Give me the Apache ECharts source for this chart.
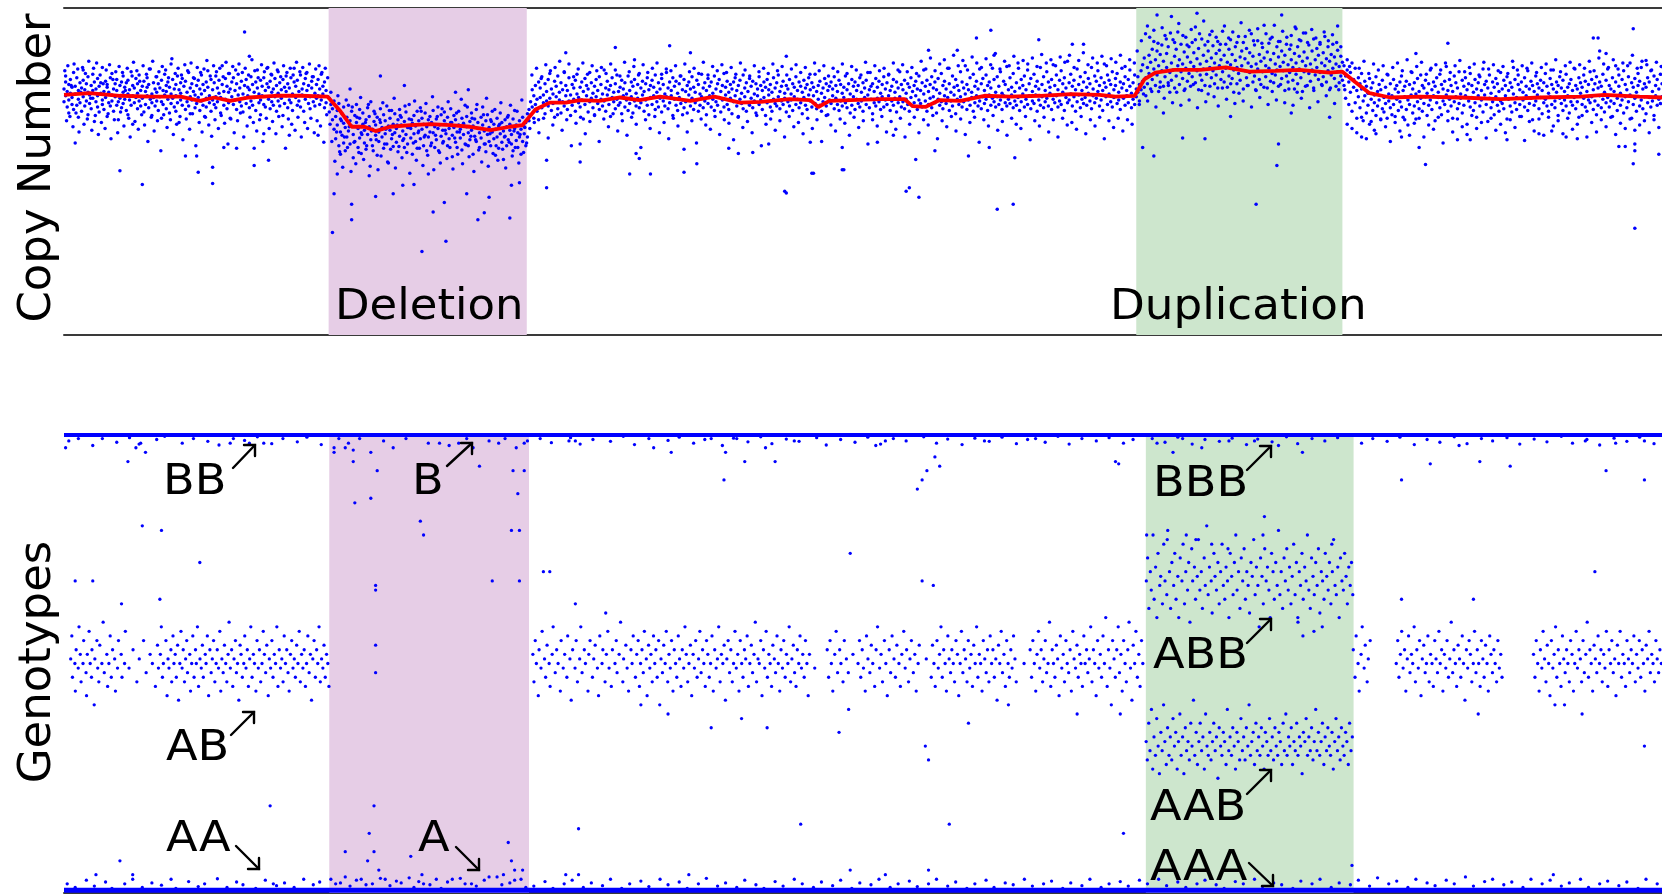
<!DOCTYPE html>
<html><head><meta charset="utf-8">
<script src="https://cdn.jsdelivr.net/npm/echarts@6/dist/echarts.min.js"></script>
<style>html,body{margin:0;padding:0;background:#fff}#c{width:1662px;height:896px}</style>
</head><body><div id="c"></div>
<script>
// ---------- DATA (position units 0..1000; copy number = log R ratio; genotype = B allele frequency) ----------
const deletionTop = [165.6, 289.6];
const duplicationTop = [671, 800];
const deletionBottom = [166, 291];
const duplicationBottom = [677, 807];
const regionLabels = ['Deletion', 'Duplication'];
const genotypeLabels = ['BB', 'B', 'AB', 'AA', 'A', 'BBB', 'ABB', 'AAB', 'AAA'];
const axisTitles = ['Copy Number', 'Genotypes'];

const cnSmooth = [0,-.01,16,.01,35,-.02,54,-.03,73,-.03,85,-.08,94,-.04,104,-.08,116,-.04,132,-.02,148,-.02,165,-.03,173,-.2,180,-.38,188,-.38,195,-.43,204,-.38,217,-.36,229,-.35,242,-.36,254,-.38,267,-.42,279,-.38,287,-.36,295,-.18,304,-.1,314,-.1,323,-.07,335,-.08,348,-.04,360,-.07,373,-.03,392,-.08,407,-.03,423,-.1,436,-.09,454,-.06,467,-.07,472,-.15,479,-.08,492,-.07,511,-.06,526,-.06,531,-.14,539,-.15,548,-.07,561,-.08,576,-.02,592,-.03,611,-.02,630,0,648,-.01,658,-.03,670,-.02,676,.17,683,.25,695,.28,711,.28,727,.31,742,.26,758,.27,773,.28,792,.25,800,.26,808,.14,817,.01,830,-.04,849,-.03,874,-.04,899,-.06,924,-.04,949,-.03,964,-.01,986,-.03,1000,-.04];

const cnLeft = [0,.06,0,-.09,1,.14,1,-.02,1,.21,2,-.15,2,.03,3,-.07,3,.11,3,-.22,4,.01,4,.17,5,-.12,5,.08,5,-.04,6,.25,6,-.18,7,.0,7,-.57,7,.09,8,-.13,8,.19,9,-.06,9,.04,9,-.27,10,.13,10,-.1,11,.07,11,-.2,12,.16,12,-.03,12,.28,13,-.14,13,.05,14,-.08,14,.12,15,-.24,15,.02,15,.2,16,-.11,16,-.01,17,.1,17,-.17,18,.23,18,-.05,18,.04,19,-.32,19,.14,20,-.09,20,.06,21,-.15,21,.18,21,-.02,22,.09,22,-.21,23,.01,23,.13,24,-.07,24,.31,24,-.12,25,.03,25,-.18,26,.15,26,-.04,27,.08,27,-.26,27,.11,28,-.1,28,.02,29,.19,29,-.14,30,-.01,30,.24,30,-.08,31,.06,31,-.2,32,.12,32,-.03,33,-.13,33,.17,33,.04,34,-.09,34,-.3,35,.1,35,-.89,35,-.05,36,.14,36,-.16,37,.02,37,.21,37,-.11,38,-.06,38,.08,39,-.19,39,.13,40,.0,40,-.24,40,.16,41,-.07,41,.05,42,.26,42,-.13,43,-.02,43,.1,43,-.35,44,.07,44,-.1,45,.18,45,-.04,46,-.17,46,.12,46,.01,47,-.08,47,.22,48,-.14,48,.04,49,-1.05,49,.09,49,-.05,50,.15,50,-.21,51,.03,51,-.12,52,.19,52,-.02,52,.08,53,-.16,53,.11,54,-.06,54,.29,55,-.1,55,.0,55,-.25,56,.13,56,-.04,57,.06,57,-.14,58,.2,58,-.08,58,.02,59,-.19,59,.12,60,-.03,60,.07,61,-.28,61,.16,61,-.09,62,.04,62,-.12,63,.23,63,-.01,64,.1,64,-.17,64,.03,65,-.06,65,.14,66,-.22,66,.08,67,.0,67,-.11,67,.35,68,.17,68,-.05,69,-.15,69,.06,70,.11,70,-.2,70,-.02,71,.21,71,-.1,72,.05,72,-.33,73,.13,73,-.07,73,.01,74,-.13,74,.18,75,-.04,75,.09,76,-.72,76,-.18,76,.15,77,.02,77,-.09,78,.25,78,-.14,79,.07,79,-.03,79,-.23,80,.12,80,-.07,81,.03,81,.19,82,-.16,82,-.01,83,-.72,83,.1,83,-.11,84,-.91,84,.16,84,-.04,85,.06,85,-.19,86,.22,86,-.08,86,.0,87,-.13,87,.11,88,-.26,88,.04,89,.14,89,-.05,89,-.15,90,.08,90,.27,91,-.1,91,-.02,92,.17,92,-.2,93,-1.04,93,-.85,93,.05,93,-.07,94,.13,94,-.12,95,-.03,95,.21,95,-.16,96,.07,96,-.09,97,.01,97,.16,98,-.22,98,-.04,99,.11,99,.33,100,-.62,100,-.13,100,.03,101,.18,101,-.06,102,-.17,102,.09,103,.02,103,-.1,103,.24,104,-.28,104,.06,105,.14,105,-.03,106,-.12,106,.19,107,.04,107,-.07,108,-.63,108,.12,108,-.18,109,-.01,109,.23,110,-.09,110,.07,111,-.14,111,.15,112,.0,112,-.21,113,.72,113,.1,113,-.05,114,.17,114,-.11,115,-.02,115,.08,116,.44,116,-.16,116,.05,117,-.08,117,.2,118,-.13,118,.11,119,-.83,119,-.63,119,.02,119,-.04,120,.14,120,-.19,121,.07,121,.28,122,-.1,122,.0,123,.16,123,-.07,123,-.24,124,.09,124,-.02,125,-.46,125,.19,125,-.12,126,.04,126,-.15,127,.12,127,.3,128,-.77,128,-.06,128,.08,129,-.17,129,.15,130,.02,130,-.09,130,.22,131,-.13,131,.06,132,-.03,132,.18,133,-.2,133,.1,134,.01,134,-.08,134,.26,135,-.14,135,.13,136,.05,136,-.05,137,-.25,137,.17,138,.08,138,-.11,139,.21,139,-.02,139,.03,140,-.16,140,.12,141,-.48,141,-.07,141,.07,142,.19,142,-.1,143,.0,143,-.19,144,.14,144,.3,145,-.04,145,.09,146,-.13,146,.16,147,.03,147,-.08,148,.22,148,-.15,149,.06,149,-.01,150,.12,150,-.2,151,.18,151,-.06,152,.04,152,.25,153,-.11,153,.1,154,-.03,154,-.17,155,.15,155,.07,156,-.09,156,.2,157,.01,157,-.14,158,.11,158,-.05,159,-.48,159,.17,159,-.02,160,.06,160,-.12,161,.23,161,-.07,162,.09,162,.0,163,-.16,163,.14,164,.04,164,-.1,165,.19,165,-.03];

const cnDeletion = [166,-.05,166,-.21,167,-.12,167,.02,168,-1.61,168,-.3,168,-.17,169,-1.16,169,-.41,169,-.08,170,-.26,170,-.52,171,-.93,171,-.19,171,-.36,172,-.6,172,-.11,173,-.44,173,-.29,173,-.7,174,-.23,174,-.48,175,-.34,175,-.15,175,-.57,176,-.39,176,-.66,177,-.27,177,-.5,178,-.13,178,-.43,179,.06,179,-.31,179,-.58,180,-1.28,180,-1.46,180,-.37,180,-.2,181,-.47,181,-.74,182,-.25,182,-.55,183,-.33,183,-.12,184,-.62,184,-.4,185,-.28,185,-.51,185,-.18,186,-.45,186,-.69,187,-.35,187,-.22,188,-.57,188,-.42,189,-.3,189,-.64,190,-.16,190,-.47,191,-.95,191,-.38,191,-.26,192,-.53,192,-.09,193,-.41,193,-.6,194,-.32,194,-.2,195,-1.19,195,-.48,195,-.36,196,-.71,196,-.27,197,-.44,197,-.55,198,.21,198,-.33,198,-.17,199,-.5,199,-.39,200,-.63,200,-.24,201,-.46,201,-.31,202,-.58,202,-.14,203,-.37,203,-.8,204,-.42,204,-.28,205,-.52,205,-.19,206,-1.16,206,-.35,206,-.61,207,-.45,207,-.23,208,-.4,208,-.56,209,-.3,209,-.67,210,-.18,210,-.49,211,-.36,211,-.27,212,-1.06,212,-.54,212,-.43,213,.1,213,-.32,213,-.62,214,-.21,214,-.47,215,-.39,215,-.58,216,-.29,216,-.12,217,-.51,217,-.4,218,-.7,218,-.34,219,-1.05,219,-.25,219,-.46,220,-.55,220,-.37,221,-.2,221,-.63,222,-.43,222,-.31,223,-.52,223,-.16,224,-1.83,224,-.41,224,-.28,225,-.6,225,-.35,226,-.48,226,-.22,227,-.38,227,-.66,228,-.93,228,-.3,228,-.5,229,-.44,229,-.26,230,-.57,230,-.33,231,-1.37,231,-.19,231,-.45,232,-.62,232,-.38,233,-.29,233,-.53,234,-.4,234,-.15,235,-.68,235,-.36,236,-.24,236,-.49,237,-.42,237,-.57,238,-1.26,238,-.31,238,-.21,239,-1.71,239,-.46,239,-.35,240,-.6,240,-.27,241,-.4,241,-.52,242,-.33,242,-.17,243,-.48,243,-.73,244,-.25,244,-.39,245,.02,245,-.56,245,-.3,246,-.44,246,-.62,247,-.36,247,-.2,248,-.51,248,-.41,249,-.28,249,-.65,250,-.34,250,-.47,251,-.13,251,-.58,252,-1.16,252,-.38,252,-.26,253,.05,253,-.45,253,-.6,254,-.32,254,-.53,255,-.22,255,-.42,256,-.37,256,-.7,257,-.29,257,-.49,258,-.55,258,-.18,259,-1.46,259,-.4,259,-.33,260,-.62,260,-.45,261,-.27,261,-.51,262,-.36,262,-.15,263,-1.38,263,-.58,263,-.43,264,-.31,264,-.67,265,-.24,265,-.47,266,-1.2,266,-.39,266,-.55,267,-.3,267,-.6,268,-.44,268,-.2,269,-.52,269,-.35,270,-.71,270,-.41,271,-.28,271,-.5,272,-.37,272,-.63,273,-.46,273,-.22,274,-.56,274,-.33,275,-.43,275,-.76,276,-.3,276,-.49,277,-.6,277,-.38,278,-.25,278,-.53,279,-1.44,279,-.42,279,-.35,280,-1.06,280,-.58,280,-.47,281,-.29,281,-.66,282,-.4,282,-.19,283,-.54,283,-.36,284,-.45,284,-.62,285,-1.03,285,-.31,285,-.5,286,-.41,286,-.7,287,-.27,287,-.55,288,-.38,288,-.46,289,-.6,289,-.33,290,-.5,290,-.23];

const cnMiddle = [291,-.18,291,-.31,292,-.09,292,-.24,293,.05,293,-.15,294,-.28,294,-.02,295,-.12,295,.1,296,-.2,296,-.06,297,.14,297,-.3,298,-.04,298,.07,299,-.16,299,.2,300,-.1,300,-.01,301,-.23,301,.12,302,-1.09,302,-.77,302,.03,302,-.08,303,.17,303,-.14,304,-.05,304,.24,305,-.19,305,.06,306,-.11,306,.0,307,.15,307,-.27,308,-.03,308,.09,309,-.17,309,.21,310,-.07,310,.02,311,-.22,311,.13,312,-.09,312,.05,313,.26,313,-.14,314,.48,314,-.02,314,.1,315,-.18,315,.04,316,-.08,316,.19,317,-.25,317,-.01,318,.11,318,-.13,319,.07,319,-.06,320,.16,320,-.2,321,.0,321,.23,322,-.1,322,-.04,323,-.79,323,-.58,323,.08,323,-.15,324,.14,324,-.07,325,-.29,325,.03,326,.18,326,-.12,327,-.02,327,.1,328,-.21,328,.06,329,.25,329,-.09,330,-.05,330,.13,331,-.16,331,.01,332,.09,332,-.24,333,-.03,333,.17,334,-.11,334,.04,335,.2,335,-.18,336,-.06,336,.11,337,.0,337,-.14,338,.28,338,-.08,339,.07,339,-.2,340,-.01,340,.15,341,-.12,341,.05,342,-.26,342,.1,343,.19,343,-.04,344,-.09,344,.02,345,.54,345,-.17,345,.12,346,-.06,346,.22,347,-.13,347,.03,348,.08,348,-.1,349,-.23,349,.16,350,-.02,350,.06,351,-.15,351,.13,352,.0,352,-.07,353,.21,353,-.19,354,-.93,354,.04,354,-.11,355,.14,355,-.03,356,-.22,356,.09,357,.4,357,.17,357,-.08,358,-.69,358,-.14,358,.01,359,.11,359,-.05,360,-.75,360,.24,360,-.16,361,.07,361,-.1,362,-.01,362,.15,363,-.2,363,.03,364,.12,364,-.07,365,-.13,365,.19,366,.05,366,-.24,367,-.93,367,-.04,367,.1,368,.16,368,-.12,369,-.02,369,.08,370,-.18,370,.22,371,.02,371,-.09,372,.13,372,-.15,373,-.05,373,.06,374,.18,374,-.21,375,-.08,375,.11,376,.0,376,-.14,377,.25,377,-.03,378,.07,378,-.17,379,.56,379,.14,379,-.1,380,-.02,380,.04,381,-.25,381,.19,382,.09,382,-.06,383,-.13,383,.15,384,.01,384,-.19,385,.12,385,-.04,386,.21,386,-.11,387,-.07,387,.05,388,-.91,388,-.64,388,.17,388,-.16,389,.03,389,-.09,390,.1,390,-.22,391,-.01,391,.14,392,.48,392,-.14,392,.06,393,-.05,393,.2,394,-.18,394,.08,395,.02,395,-.1,396,-.81,396,.16,396,-.07,397,-.2,397,.11,398,.0,398,-.13,399,.23,399,-.03,400,.07,400,-.16,401,.13,401,-.08,402,-.24,402,.04,403,.18,403,-.11,404,-.02,404,.09,405,-.15,405,.14,406,.01,406,-.06,407,.21,407,-.19,408,-.09,408,.06,409,.12,409,-.13,410,-.04,410,.17,411,-.21,411,.03,412,.1,412,-.07,413,-.15,413,.24,414,-.01,414,.08,415,-.12,415,.15,416,-.63,416,.02,416,-.18,417,.11,417,-.05,418,-.23,418,.06,419,.14,419,-.09,420,-.02,420,.19,421,-.14,421,.04,422,-.69,422,-.26,422,.1,423,.16,423,-.06,424,-.11,424,.01,425,.22,425,-.17,426,.07,426,-.03,427,-.2,427,.13,428,.03,428,-.1,429,.18,429,-.13,430,-.05,430,.09,431,-.68,431,-.16,431,.15,432,.0,432,-.08,433,.12,433,-.22,434,-.02,434,.06,435,.2,435,-.12,436,-.07,436,.1,437,-.18,437,.04,438,.14,438,-.04,439,-.25,439,.08,440,.17,440,-.1,441,-.58,441,-.01,441,.05,442,-.15,442,.11,443,.02,443,-.2,444,.19,444,-.06,445,-.11,445,.07,446,.13,446,-.14,447,-.03,447,.22,448,-.17,448,.03,449,.09,449,-.08,450,-.12,450,.15,451,-1.13,451,.01,451,-.05,452,.44,452,-1.15,452,-.21,452,.1,453,.06,453,-.09,454,-.14,454,.17,455,.0,455,-.07,456,.12,456,-.19,457,-.03,457,.08,458,.2,458,-.12,459,-.06,459,.04,460,-.16,460,.14,461,.09,461,-.1,462,-.23,462,.02,463,.16,463,-.04,464,-.13,464,.07,465,.11,465,-.18,466,-.01,466,.19,467,-.56,467,-.08,467,.05,468,-.92,468,.13,468,-.15,469,-.92,469,-.02,469,.08,470,-.11,470,.23,471,.03,471,-.17,472,-.06,472,.1,473,.15,473,-.13,474,-.2,474,.01,475,.07,475,-.09,476,.18,476,-.04,477,-.14,477,.12,478,.04,478,-.24,479,-.07,479,.09,480,.14,480,-.11,481,-.02,481,.06,482,-.17,482,.2,483,.1,483,-.05,484,-.12,484,.03,485,.16,485,-.19,486,-.08,486,.11,487,-.62,487,-.88,487,.01,487,-.14,488,-.88,488,.08,488,-.04,489,.21,489,-.1,490,-.16,490,.05,491,.12,491,-.07,492,-.22,492,.0,493,.17,493,-.13,494,-.03,494,.09,495,.14,495,-.18,496,-.06,496,.04,497,.1,497,-.11,498,-.15,498,.19,499,.02,499,-.08,500,.13,500,-.2,501,-.04,501,.07,502,.16,502,-.12,503,-.01,503,.25,504,-.16,504,.05,505,.09,505,-.06,506,-.23,506,.12,507,.03,507,-.1,508,.18,508,-.14,509,-.56,509,-.05,509,.08,510,.15,510,-.09,511,-.18,511,.01,512,.11,512,-.03,513,.2,513,-.15,514,-.07,514,.06,515,.13,515,-.12,516,-.02,516,.22,517,-.19,517,.04,518,.09,518,-.08,519,-.48,519,.17,519,-.13,520,.02,520,-.05,521,.14,521,-.21,522,-.1,522,.07,523,.26,523,-.03,524,-.15,524,.11,525,.05,525,-.09,526,-.17,526,.16,527,-1.13,527,.01,527,-.06,528,.12,528,-.12,529,-1.09,529,-.2,529,.08,530,.19,530,-.04,531,-.14,531,.03,532,.1,532,-.1,533,-.76,533,-.02,533,.15,534,.06,534,-.18,535,-1.2,535,.21,535,-.07,536,-.11,536,.04,537,.13,537,-.15,538,.0,538,.28,539,-.08,539,.09,540,-.2,540,.16,541,.51,541,.03,541,-.12,542,-.05,542,.11,543,.2,543,-.16,544,.07,544,-.03,545,-.66,545,.14,545,-.1,546,-.22,546,.05,547,.18,547,-.06,548,.01,548,-.13,549,.24,549,-.09,550,.1,550,-.17,551,-.02,551,.15,552,.06,552,-.11,553,.3,553,-.04,554,-.19,554,.12,555,.02,555,-.08,556,.21,556,-.14,557,.08,557,-.01,558,.17,558,-.23,559,.51,559,-.06,559,.1,560,.04,560,-.12,561,.26,561,-.03,562,-.15,562,.14,563,.07,563,-.09,564,.33,564,.0,565,-.18,565,.11,566,-.72,566,.05,566,-.07,567,.19,567,-.13,568,.02,568,-.04,569,.23,569,-.2,570,.09,570,-.1,571,.65,571,.15,571,-.02,572,-.14,572,.06,573,.29,573,-.08,574,.12,574,-.17,575,-.03,575,.18,576,.04,576,-.11,577,.22,577,-.06,578,-.19,578,.1,579,-.62,579,.14,579,-.01,580,.74,580,.07,580,-.13,581,.3,581,-.05,582,.45,582,.17,582,-.09,583,.02,583,-.15,584,-1.34,584,.2,584,-.03,585,.09,585,-.12,586,.26,586,-.07,587,.01,587,-.18,588,.15,588,-.02,589,.11,589,-.1,590,.32,590,-.14,591,.05,591,-.06,592,.19,592,-.11,593,-.01,593,.08,594,-1.28,594,.24,594,-.16,595,-.74,595,.03,595,-.08,596,.13,596,-.13,597,.36,597,-.04,598,.07,598,-.19,599,.17,599,-.09,600,.0,600,.1,601,-.15,601,.21,602,.05,602,-.06,603,.28,603,-.12,604,.12,604,-.02,605,.18,605,-.17,606,.03,606,-.08,607,.23,607,-.11,608,.09,608,-.01,609,.15,609,-.2,610,.63,610,.06,610,-.07,611,.31,611,-.13,612,.11,612,-.03,613,.2,613,-.16,614,.04,614,-.09,615,.26,615,-.05,616,.14,616,-.14,617,.01,617,.08,618,-.18,618,.17,619,.34,619,-.06,620,.1,620,-.1,621,.22,621,-.02,622,.05,622,-.15,623,.16,623,-.08,624,.27,624,-.12,625,.02,625,.12,626,-.19,626,.19,627,.07,627,-.04,628,.38,628,-.1,629,.13,629,-.07,630,.0,630,.23,631,.58,631,-.14,631,.09,632,.16,632,-.03,633,-.2,633,.05,634,.29,634,-.09,635,.11,635,-.01,636,.2,636,-.16,637,.04,637,-.06,638,.58,638,.14,638,-.11,639,.25,639,-.04,640,.08,640,-.13,641,.18,641,.01,642,-.08,642,.12,643,.31,643,-.17,644,.06,644,-.02,645,.21,645,-.1,646,.15,646,-.05,647,.03,647,.27,648,-.14,648,.1,649,.19,649,-.07,650,.04,650,-.19,651,.13,651,.35,652,-.03,652,.08,653,.22,653,-.12,654,.0,654,.16,655,-.09,655,.11,656,.26,656,-.15,657,.05,657,-.04,658,.18,658,.1,659,-.11,659,.24,660,.02,660,-.07,661,.14,661,-.18,662,.3,662,.07,663,-.05,663,.12,664,.2,664,-.13,665,.04,665,-.02,666,.17,666,-.1,667,.09,667,.28,668,-.16,668,.01,669,.13,669,-.06,670,.22,670,-.12,671,.06,671,-.03];

const cnDuplication = [672,.02,672,.2,673,.11,673,-.08,674,.27,674,.05,675,-.62,675,.15,675,.34,676,.08,676,.42,677,.19,677,-.02,678,.79,678,.31,678,.12,679,.45,679,.24,680,.06,680,.37,681,.52,681,.17,682,-.72,682,.29,682,.61,683,.1,683,.4,684,.92,684,.22,684,.5,685,.33,685,.03,686,.46,686,.14,687,.57,687,.27,688,-.22,688,.38,688,.09,689,.68,689,.2,690,.31,690,.47,691,.13,691,.55,692,.25,692,.02,693,.9,693,.36,693,.16,694,.63,694,.28,695,.44,695,.07,696,.21,696,.52,697,.33,697,.72,698,.11,698,.4,699,.26,699,.58,700,-.51,700,.18,700,.35,701,.49,701,.04,702,.3,702,.66,703,.15,703,.43,704,.24,704,.55,705,.09,705,.37,706,.6,706,.2,707,.32,707,.48,708,.13,708,.78,709,.94,709,.27,709,.41,710,.05,710,.53,711,.22,711,.35,712,.64,712,.16,713,.45,713,.29,714,-.52,714,.1,714,.57,715,.38,715,.23,716,.5,716,.0,717,.31,717,.69,718,.19,718,.42,719,.27,719,.56,720,.12,720,.36,721,.47,721,.22,722,.61,722,.07,723,.33,723,.51,724,.17,724,.4,725,.26,725,.73,726,.14,726,.45,727,.3,727,.58,728,.08,728,.37,729,.52,729,.21,730,-.26,730,.34,730,.63,731,.18,731,.46,732,.28,732,.02,733,.55,733,.39,734,.12,734,.31,735,.67,735,.24,736,.43,736,.16,737,.5,737,.33,738,.06,738,.6,739,.27,739,.41,740,.19,740,.53,741,.36,741,.1,742,.48,742,.25,743,.7,743,.32,744,.14,744,.44,745,.57,745,.21,746,-1.28,746,.35,746,.04,747,.62,747,.29,748,.17,748,.46,749,.38,749,.11,750,.54,750,.26,751,.42,751,.8,752,.2,752,.33,753,.49,753,.07,754,.3,754,.59,755,.15,755,.4,756,.24,756,.66,757,.47,757,.13,758,.35,758,.22,759,-.83,759,.55,759,.28,760,-.58,760,.09,760,.43,761,.32,761,.61,762,.92,762,.18,762,.5,763,.27,763,.37,764,.04,764,.45,765,.21,765,.58,766,.34,766,.14,767,.52,767,.25,768,-.22,768,.4,768,.68,769,.16,769,.31,770,.47,770,.06,771,.76,771,.36,771,.23,772,.55,772,.12,773,.29,773,.44,774,.62,774,.19,775,.38,775,.03,776,.49,776,.26,777,.33,777,.71,778,.1,778,.42,779,.24,779,.57,780,.35,780,.15,781,.5,781,.28,782,.64,782,.07,783,.4,783,.22,784,.53,784,.31,785,.17,785,.45,786,.6,786,.25,787,.36,787,.11,788,.48,788,.2,789,.33,789,.67,790,.14,790,.41,791,.27,791,.55,792,-.27,792,.05,792,.38,793,.46,793,.22,794,.3,794,.58,795,.18,795,.43,796,.35,796,.09,797,.79,797,.51,797,.26,798,.32,798,.13,799,.44,799,.21,800,.37,800,.16];

const cnRight = [801,.33,801,.1,802,.21,802,-.05,803,.28,803,.4,804,.14,804,-.12,805,.25,805,.02,806,.36,806,-.2,807,.08,807,.17,808,-.1,808,.3,809,.04,809,-.28,810,.19,810,-.03,811,.12,811,-.16,812,-.5,812,.06,812,.24,813,-.08,813,-.31,814,.15,814,-.02,815,-.22,815,.09,816,.01,816,-.13,817,.18,817,-.35,818,-.06,818,.07,819,-.19,819,.13,820,-.42,820,-.01,820,-.1,821,.2,821,-.25,822,.03,822,-.14,823,-.07,823,.11,824,-.3,824,.05,825,-.17,825,.16,826,-.04,826,-.21,827,.08,827,-.11,828,.23,828,-.28,829,.0,829,-.08,830,-.16,830,.12,831,-.02,831,-.24,832,.17,832,-.12,833,.06,833,-.33,834,-.06,834,.1,835,-.19,835,.02,836,.14,836,-.09,837,-.5,837,-.15,837,.21,838,.04,838,-.27,839,-.03,839,.09,840,-.18,840,.15,841,-.07,841,-.36,842,.11,842,-.12,843,.26,843,-.01,844,-.22,844,.06,845,.13,845,-.14,846,.47,846,.0,846,-.29,847,-.09,847,.18,848,-.62,848,.03,848,-.17,849,-.05,849,.22,850,.1,850,-.2,851,-.11,851,.07,852,-.82,852,.16,852,-.03,853,-.25,853,.01,854,.12,854,-.13,855,-.07,855,.28,856,.05,856,-.18,857,-.02,857,.14,858,-.31,858,.09,859,.19,859,-.1,860,-.04,860,.02,861,-.16,861,.23,862,.11,862,-.24,863,-.08,863,.06,864,.15,864,-.12,865,-.01,865,.32,866,.59,866,-.2,866,.04,867,.17,867,-.06,868,-.14,868,.1,869,.03,869,-.28,870,.21,870,-.09,871,-.03,871,.13,872,-.53,872,-.17,872,.07,873,.26,873,-.11,874,.0,874,-.05,875,.16,875,-.22,876,.09,876,-.13,877,-.02,877,.19,878,-.35,878,.05,879,.12,879,-.08,880,-.53,880,.24,880,-.15,881,-.04,881,.1,882,.02,882,-.19,883,.17,883,-.1,884,-.27,884,.06,885,.13,885,-.02,886,-.14,886,.2,887,.04,887,-.07,888,.29,888,-.21,889,-.01,889,.11,890,-.12,890,.15,891,.07,891,-.32,892,-.05,892,.22,893,.01,893,-.16,894,.14,894,-.09,895,-.24,895,.08,896,.18,896,-.03,897,-.13,897,.12,898,.03,898,-.2,899,.25,899,-.08,900,-.11,900,.06,901,.16,901,-.17,902,-.02,902,.1,903,-.53,903,-.29,903,.2,904,.04,904,-.06,905,.13,905,-.14,906,-.21,906,.08,907,.31,907,.0,908,-.1,908,.17,909,-.04,909,-.18,910,.11,910,.22,911,-.12,911,.05,912,-.26,912,.14,913,.02,913,-.07,914,.19,914,-.15,915,.09,915,-.02,916,-.19,916,.27,917,.06,917,-.11,918,.15,918,-.05,919,-.3,919,.1,920,.03,920,-.13,921,.21,921,-.08,922,-.01,922,.12,923,-.46,923,-.17,923,.07,924,.16,924,-.04,925,-.23,925,.04,926,.13,926,-.1,927,.24,927,-.06,928,-.14,928,.09,929,.01,929,-.2,930,.18,930,-.03,931,-.43,931,.11,931,-.12,932,.06,932,.28,933,-.08,933,-.16,934,.14,934,.02,935,-.25,935,.1,936,.2,936,-.05,937,-.11,937,.07,938,.16,938,-.19,939,.03,939,-.07,940,-.5,940,.23,940,-.14,941,.08,941,-.02,942,.12,942,-.22,943,-.09,943,.17,944,.04,944,-.13,945,.3,945,-.04,946,-.17,946,.1,947,-.52,947,.06,947,-.09,948,.19,948,-.27,949,.01,949,.13,950,-.12,950,.08,951,.22,951,-.05,952,-.15,952,.15,953,.03,953,-.2,954,.11,954,-.07,955,.26,955,-.1,956,-.03,956,.17,957,.65,957,-.18,957,.05,958,.12,958,-.08,959,-.24,959,.2,960,.65,960,.07,960,-.13,961,.5,961,-.02,961,.14,962,-.16,962,.09,963,.23,963,-.06,964,.02,964,-.21,965,.47,965,.16,965,-.1,966,-.04,966,.29,967,.1,967,-.15,968,-.08,968,.06,969,.19,969,-.26,970,.03,970,-.11,971,.14,971,.33,972,-.05,972,-.19,973,-.61,973,.09,973,.22,974,-.13,974,.01,975,.17,975,-.07,976,.27,976,-.22,977,-.61,977,.11,977,-.03,978,.05,978,-.16,979,.2,979,-.09,980,.36,980,-.01,981,.13,981,-.28,982,-.81,982,.08,982,-.12,982,.76,983,-1.56,983,-.58,983,-.66,983,.18,983,-.05,984,.02,984,-.2,985,.24,985,.1,986,-.14,986,.15,987,-.07,987,.31,988,.06,988,-.17,989,.12,989,-.03,990,.39,990,-.23,990,.08,991,.19,991,-.1,992,-.04,992,.14,993,.27,993,-.15,994,.03,994,-.08,995,.21,995,-.25,996,.1,996,-.02,997,-.13,997,.17,998,-.7,998,.06,998,-.06,999,.23,999,-.11,1000,.12,1000,-.03];

// additional probes between the ones above (wider spread of the copy-number cloud)
const cnExtra = [0.5,.27,1.6,-.31,2.4,.33,3.7,-.26,4.5,.1,5.6,-.38,6.3,.35,7.5,-.22,8.6,.29,9.4,-.44,10.5,.02,11.6,.31,12.5,-.35,13.4,.24,14.6,-.29,15.5,.38,16.7,-.05,17.4,-.42,18.5,.3,19.6,-.25,20.4,.36,21.5,-.47,22.6,.22,23.4,-.33,24.5,.12,25.7,-.4,26.4,.28,27.6,-.23,28.5,.34,29.4,-.52,30.6,.17,31.5,-.3,32.4,.26,33.6,-.45,34.5,.32,35.4,-.21,36.6,.25,37.5,-.37,38.4,.04,39.6,.3,40.5,-.28,41.4,-.5,42.6,.21,43.5,.37,44.4,-.32,45.6,.27,46.5,-.41,47.4,.15,48.6,-.24,49.5,.33,50.4,-.36,51.6,.23,52.5,-.55,53.4,.29,54.6,-.27,55.5,.38,56.4,-.43,57.6,.2,58.5,-.31,59.4,.26,60.6,-.66,61.5,.32,62.4,-.24,63.6,.28,64.5,-.39,65.4,.19,66.6,-.3,67.5,.41,68.4,-.47,69.6,.24,70.5,-.35,71.4,.3,72.6,-.26,73.5,.22,74.4,-.53,75.6,.34,76.5,-.29,77.4,.27,78.6,-.41,79.5,.36,80.4,-.23,81.6,.18,82.5,-.6,83.4,.31,84.6,-.33,85.5,.25,86.4,-.44,87.6,.29,88.5,-.27,89.4,.39,90.6,-.36,91.5,.21,92.4,-.49,93.6,.33,94.5,-.3,95.4,.26,96.6,-.4,97.5,.3,98.4,-.25,99.6,.2,100.5,-.34,101.4,.37,102.6,-.58,103.5,.24,104.4,-.29,105.6,.32,106.5,-.45,107.4,.28,108.6,-.31,109.5,.35,110.4,-.22,111.6,.25,112.5,-.5,113.4,.3,114.6,-.37,115.5,.22,116.4,-.27,117.6,.4,118.5,-.33,119.4,.27,120.6,-.43,121.5,.19,122.4,-.3,123.6,.34,124.5,-.55,125.4,.26,126.6,-.28,127.5,.31,128.4,-.4,129.6,.23,130.5,-.32,131.4,.36,132.6,-.46,133.5,.28,134.4,-.26,135.6,.2,136.5,-.38,137.4,.33,138.6,-.63,139.5,.25,140.4,-.29,141.6,.3,142.5,-.35,143.4,.22,144.6,-.42,145.5,.37,146.4,-.27,147.6,.26,148.5,-.5,149.4,.31,150.6,-.33,151.5,.24,152.4,-.4,153.6,.35,154.5,-.28,155.4,.2,156.6,-.45,157.5,.29,158.4,-.31,159.6,.33,160.5,-.37,161.4,.25,162.6,-.56,163.5,.3,164.4,-.24,
166.5,-.35,167.6,-.55,168.4,-.1,169.5,-.78,170.6,-.44,171.4,-.02,172.5,-.67,173.6,-.31,174.4,-.85,175.5,-.5,176.6,-.07,177.4,-.62,178.5,-.38,179.6,-.9,180.4,-.15,181.5,-.56,182.6,-.81,183.4,-.27,184.5,-.68,185.6,-.04,186.4,-.47,187.5,-.76,188.6,-.33,189.4,-.6,190.5,-.12,191.6,-.84,192.4,-.43,193.5,-.66,194.6,-.23,195.4,-.53,196.5,-.88,197.6,-.3,198.4,-.72,199.5,-.1,200.6,-.58,201.4,-.41,202.5,-.79,203.6,-.19,204.4,-.64,205.5,-.47,206.6,-.05,207.4,-.86,208.5,-.36,209.6,-.61,210.4,-.25,211.5,-.74,212.6,-.52,213.4,-.14,214.5,-.68,215.6,-.39,216.4,-.92,217.5,-.3,218.6,-.57,219.4,-.08,220.5,-.77,221.6,-.45,222.4,-.63,223.5,-.2,224.6,-.83,225.4,-.5,226.5,-.11,227.6,-.71,228.4,-.35,229.5,-.6,230.6,-.03,231.4,-.88,232.5,-.48,233.6,-.26,234.4,-.66,235.5,-.8,236.6,-.17,237.4,-.55,238.5,-.42,239.6,-.75,240.4,-.09,241.5,-.62,242.6,-.33,243.4,-.87,244.5,-.51,245.6,-.22,246.4,-.7,247.5,-.44,248.6,-.06,249.4,-.81,250.5,-.37,251.6,-.59,252.4,-.15,253.5,-.73,254.6,-.49,255.4,-.28,256.5,-.9,257.6,-.53,258.4,-.12,259.5,-.65,260.6,-.4,261.4,-.79,262.5,-.24,263.6,-.58,264.4,-.05,265.5,-.84,266.6,-.46,267.4,-.32,268.5,-.69,269.6,-.18,270.4,-.6,271.5,-.77,272.6,-.35,273.4,-.1,274.5,-.64,275.6,-.5,276.4,-.86,277.5,-.27,278.6,-.56,279.4,-.13,280.5,-.72,281.6,-.43,282.4,-.62,283.5,-.2,284.6,-.8,285.4,-.47,286.5,-.07,287.6,-.68,288.4,-.39,289.5,-.57,
291.5,-.4,292.8,.22,294.3,-.33,295.7,.3,297.2,-.45,298.6,.18,300.1,-.28,301.5,.34,303,-.51,304.4,.27,305.9,-.36,307.3,.31,308.8,-.24,310.2,.38,311.7,-.42,313.1,.25,314.6,-.3,316,.35,317.5,-.6,318.9,.2,320.4,-.34,321.8,.29,323.3,-.27,324.7,.36,326.2,-.46,327.6,.23,329.1,-.32,330.5,.33,332,-.25,333.4,.27,334.9,-.55,336.3,.31,337.8,-.29,339.2,.24,340.7,-.38,342.1,.35,343.6,-.23,345,.28,346.5,-.43,347.9,.21,349.4,-.31,350.8,.37,352.3,-.48,353.7,.26,355.2,-.27,356.6,.32,358.1,-.35,359.5,.22,361,-.62,362.4,.34,363.9,-.3,365.3,.25,366.8,-.4,368.2,.3,369.7,-.26,371.1,.36,372.6,-.45,374,.23,375.5,-.33,376.9,.29,378.4,-.52,379.8,.27,381.3,-.28,382.7,.33,384.2,-.37,385.6,.21,387.1,-.24,388.5,.35,390,-.44,391.4,.26,392.9,-.31,394.3,.3,395.8,-.57,397.2,.24,398.7,-.29,400.1,.37,401.6,-.36,403,.22,404.5,-.41,405.9,.32,407.4,-.26,408.8,.27,410.3,-.47,411.7,.34,413.2,-.3,414.6,.25,416.1,-.34,417.5,.31,419,-.53,420.4,.23,421.9,-.27,423.3,.36,424.8,-.39,426.2,.28,427.7,-.32,429.1,.21,430.6,-.45,432,.33,433.5,-.25,434.9,.26,436.4,-.6,437.8,.3,439.3,-.35,440.7,.24,442.2,-.29,443.6,.35,445.1,-.42,446.5,.27,448,-.31,449.4,.32,450.9,-.5,452.3,.22,453.8,-.26,455.2,.29,456.7,-.38,458.1,.34,459.6,-.33,461,.25,462.5,-.46,463.9,.31,465.4,-.28,466.8,.23,468.3,-.4,469.7,.36,471.2,-.3,472.6,.27,474.1,-.55,475.5,.33,477,-.25,478.4,.21,479.9,-.36,481.3,.3,482.8,-.43,484.2,.26,485.7,-.29,487.1,.35,488.6,-.34,490,.24,491.5,-.48,492.9,.32,494.4,-.27,495.8,.28,497.3,-.39,498.7,.22,500.2,-.31,501.6,.37,503.1,-.58,504.5,.25,506,-.3,507.4,.33,508.9,-.37,510.3,.27,511.8,-.26,513.2,.3,514.7,-.44,516.1,.23,517.6,-.32,519,.36,520.5,-.41,521.9,.28,523.4,-.28,524.8,.34,526.3,-.5,527.7,.26,529.2,-.35,530.6,.31,532.1,-.27,533.5,.24,535,-.45,536.4,.38,537.9,-.3,539.3,.29,540.8,-.36,542.2,.42,543.7,-.25,545.1,.27,546.6,-.52,548,.35,549.5,-.31,550.9,.4,552.4,-.38,553.8,.3,555.3,-.26,556.7,.45,558.2,-.43,559.6,.33,561.1,-.29,562.5,.39,564,-.47,565.4,.28,566.9,-.33,568.3,.43,569.8,-.27,571.2,.36,572.7,-.56,574.1,.31,575.6,-.3,577,.41,578.5,-.37,579.9,.34,581.4,-.25,582.8,.47,584.3,-.42,585.7,.29,587.2,-.32,588.6,.38,590.1,-.48,591.5,.33,593,-.28,594.4,.44,595.9,-.35,597.3,.3,598.8,-.4,600.2,.39,601.7,-.26,603.1,.35,604.6,-.53,606,.42,607.5,-.31,608.9,.32,610.4,-.37,611.8,.46,613.3,-.27,614.7,.36,616.2,-.44,617.6,.4,619.1,-.3,620.5,.33,622,-.5,623.4,.43,624.9,-.28,626.3,.37,627.8,-.36,629.2,.45,630.7,-.33,632.1,.31,633.6,-.41,635,.39,636.5,-.26,637.9,.48,639.4,-.46,640.8,.34,642.3,-.3,643.7,.42,645.2,-.37,646.6,.36,648.1,-.27,649.5,.44,651,-.52,652.4,.33,653.9,-.31,655.3,.41,656.8,-.39,658.2,.37,659.7,-.28,661.1,.45,662.6,-.43,664,.32,665.5,-.3,666.9,.4,668.4,-.35,669.8,.36,
671.6,.5,672.9,-.12,674.2,.62,675.5,.0,676.8,.7,678.1,-.08,679.4,.66,680.7,.03,682,.74,683.3,-.15,684.6,.59,685.9,.08,687.2,.77,688.5,-.05,689.8,.64,691.1,.1,692.4,.71,693.7,-.1,695,.6,696.3,.02,697.6,.82,698.9,-.13,700.2,.68,701.5,.06,702.8,.57,704.1,-.07,705.4,.75,706.7,.11,708,.63,709.3,-.16,710.6,.7,711.9,.04,713.2,.85,714.5,-.09,715.8,.61,717.1,.09,718.4,.73,719.7,-.03,721,.66,722.3,-.14,723.6,.58,724.9,.07,726.2,.79,727.5,-.06,728.8,.65,730.1,.12,731.4,.72,732.7,-.11,734,.6,735.3,.01,736.6,.83,737.9,-.08,739.2,.67,740.5,.1,741.8,.74,743.1,-.15,744.4,.62,745.7,.05,747,.76,748.3,-.04,749.6,.59,750.9,.08,752.2,.7,753.5,-.12,754.8,.64,756.1,.03,757.4,.8,758.7,-.07,760,.61,761.3,.11,762.6,.73,763.9,-.1,765.2,.66,766.5,.06,767.8,.57,769.1,-.13,770.4,.78,771.7,.02,773,.63,774.3,-.05,775.6,.71,776.9,.09,778.2,.6,779.5,-.16,780.8,.75,782.1,.04,783.4,.65,784.7,-.09,786,.58,787.3,.1,788.6,.72,789.9,-.02,791.2,.62,792.5,.07,793.8,.69,795.1,-.11,796.4,.6,797.7,.05,799,.55,
801.5,.05,803,-.35,804.5,.32,806,-.4,807.5,.15,809,-.45,810.5,.3,812,-.27,813.5,.38,815,-.52,816.5,.24,818,-.32,819.5,.35,821,-.46,822.5,.28,824,-.29,825.5,.33,827,-.38,828.5,.22,830,-.55,831.5,.31,833,-.26,834.5,.36,836,-.43,837.5,.27,839,-.3,840.5,.4,842,-.48,843.5,.25,845,-.34,846.5,.32,848,-.28,849.5,.37,851,-.5,852.5,.23,854,-.36,855.5,.3,857,-.41,858.5,.34,860,-.27,861.5,.28,863,-.57,864.5,.36,866,-.31,867.5,.25,869,-.44,870.5,.33,872,-.29,873.5,.39,875,-.38,876.5,.26,878,-.47,879.5,.31,881,-.25,882.5,.35,884,-.4,885.5,.22,887,-.33,888.5,.37,890,-.51,891.5,.29,893,-.28,894.5,.34,896,-.42,897.5,.27,899,-.35,900.5,.32,902,-.45,903.5,.24,905,-.3,906.5,.38,908,-.39,909.5,.28,911,-.26,912.5,.33,914,-.54,915.5,.3,917,-.32,918.5,.36,920,-.43,921.5,.25,923,-.29,924.5,.31,926,-.48,927.5,.35,929,-.27,930.5,.28,932,-.37,933.5,.4,935,-.31,936.5,.26,938,-.46,939.5,.33,941,-.28,942.5,.37,944,-.41,945.5,.29,947,-.35,948.5,.34,950,-.25,951.5,.3,953,-.5,954.5,.38,956,-.33,957.5,.27,959,-.44,960.5,.42,962,-.3,963.5,.35,965,-.38,966.5,.31,968,-.27,969.5,.4,971,-.47,972.5,.29,974,-.34,975.5,.36,977,-.4,978.5,.33,980,-.29,981.5,.45,983,-.42,984.5,.3,986,-.36,987.5,.38,989,-.31,990.5,.34,992,-.45,993.5,.28,995,-.3,996.5,.37,998,-.39,999.5,.32];

const bafAB = [4.2,.51,4.9,.56,5.3,.47,6.8,.5,7.1,.44,7.6,.53,8.9,.49,9.4,.58,10.2,.52,10.7,.46,11.9,.5,12.3,.55,13.8,.48,14.1,.43,14.6,.52,15.7,.57,16.4,.5,17.2,.47,17.5,.53,18.9,.41,19.3,.51,20.6,.55,21.1,.49,21.8,.46,22.4,.54,23.7,.5,24.5,.59,25.2,.48,26.8,.52,27.3,.45,28.1,.5,28.9,.56,29.6,.47,30.4,.53,31.7,.51,32.2,.44,33.5,.49,34.1,.55,35.8,.52,36.3,.47,37.9,.5,38.4,.57,40.7,.49,43.2,.53,45.6,.46,47.1,.51,49.8,.55,51.4,.48,53.9,.52,55.3,.5,57.2,.45,58.5,.54,59.1,.49,60.3,.52,60.9,.58,61.6,.47,62.2,.5,63.8,.55,64.5,.43,65.1,.51,65.7,.49,66.9,.53,67.4,.46,68.2,.56,68.8,.5,69.6,.52,70.3,.47,71.1,.54,71.7,.42,72.5,.5,73.2,.57,73.9,.49,74.6,.53,75.4,.46,76.1,.51,76.8,.55,77.3,.48,78.7,.52,79.2,.44,79.9,.5,80.6,.56,81.4,.47,82.3,.53,82.8,.5,83.5,.58,84.2,.45,85.1,.51,85.9,.49,86.6,.54,87.2,.47,88.4,.52,88.9,.5,89.7,.56,90.5,.43,91.3,.53,92.1,.48,92.8,.51,93.6,.55,94.4,.46,95.2,.5,95.9,.53,96.7,.49,97.5,.57,98.1,.44,98.8,.51,99.6,.48,100.4,.54,101.2,.5,101.9,.46,102.7,.52,103.3,.59,104.1,.49,104.9,.53,105.6,.45,106.4,.51,107.3,.55,107.9,.48,108.6,.5,109.4,.42,110.2,.54,110.8,.52,111.6,.47,112.5,.5,113.1,.56,113.9,.49,114.7,.53,115.4,.45,116.2,.51,116.9,.58,117.7,.47,118.5,.52,119.2,.5,120.1,.44,120.8,.55,121.6,.49,122.3,.53,123.1,.46,123.9,.5,124.7,.57,125.4,.52,126.2,.48,126.9,.54,127.8,.43,128.5,.51,129.3,.49,130.1,.55,130.8,.47,131.6,.52,132.4,.5,133.2,.58,133.9,.45,134.7,.53,135.5,.49,136.3,.51,137.1,.46,137.8,.56,138.6,.5,139.4,.53,140.2,.48,140.9,.44,141.7,.52,142.5,.55,143.3,.49,144.1,.51,144.8,.47,145.6,.54,146.4,.5,147.2,.57,147.9,.46,148.7,.52,149.5,.49,150.3,.53,151.1,.45,151.8,.5,152.6,.56,153.4,.48,154.2,.52,154.9,.42,155.7,.51,156.5,.55,157.3,.47,158.1,.53,158.8,.5,159.6,.58,160.4,.46,161.2,.51,162,.49,162.7,.54,163.5,.47,164.3,.52,165.1,.5,165.8,.45,
293.4,.52,294.1,.46,294.9,.55,295.6,.5,296.8,.43,297.3,.53,298.5,.49,299.2,.57,300.7,.51,301.4,.47,302.3,.54,303.6,.5,304.2,.45,305.5,.52,306.1,.58,307.4,.48,308.3,.53,309.2,.5,310.6,.44,311.1,.55,312.4,.49,313.3,.52,314.7,.47,315.2,.56,316.6,.51,317.4,.42,318.3,.53,319.8,.49,320.5,.55,321.3,.46,322.7,.51,323.4,.58,324.2,.48,325.6,.53,326.3,.5,327.9,.44,328.4,.52,329.2,.55,330.7,.47,331.5,.51,332.4,.54,333.8,.49,334.5,.43,335.3,.56,336.7,.5,337.2,.53,338.6,.46,339.4,.52,340.3,.57,341.1,.49,342.5,.45,343.2,.53,344.8,.5,345.6,.55,346.1,.48,347.4,.52,348.3,.59,349.7,.46,350.2,.51,351.6,.54,352.4,.49,353.3,.44,354.8,.53,355.5,.5,356.2,.56,357.6,.47,358.4,.52,359.3,.55,360.1,.45,360.8,.5,361.7,.53,362.5,.48,363.2,.57,364.4,.51,364.9,.43,365.8,.54,366.6,.49,367.3,.52,368.1,.46,368.9,.56,369.7,.5,370.4,.53,371.2,.47,372.1,.55,372.8,.41,373.6,.51,374.5,.48,375.3,.54,376.2,.5,376.9,.57,377.8,.46,378.6,.52,379.4,.49,380.2,.55,381.1,.44,381.9,.53,382.7,.5,383.5,.47,384.4,.56,385.2,.51,386.1,.45,386.9,.53,387.8,.49,388.6,.58,389.4,.52,390.3,.46,391.1,.5,392,.54,392.8,.43,393.7,.52,394.5,.49,395.3,.55,396.2,.47,397.1,.51,397.9,.57,398.7,.48,399.6,.53,400.4,.5,401.3,.45,402.1,.55,402.9,.52,403.8,.47,404.6,.5,405.5,.56,406.3,.44,407.2,.53,408.1,.49,408.9,.51,409.7,.58,410.6,.46,411.4,.52,412.3,.5,413.1,.54,413.9,.42,414.8,.51,415.6,.55,416.5,.48,417.3,.53,418.2,.46,419,.5,419.9,.57,420.7,.49,421.6,.52,422.4,.44,423.2,.55,424.1,.5,424.9,.47,425.8,.53,426.6,.51,427.5,.56,428.3,.45,429.2,.5,430.1,.54,430.9,.48,431.8,.52,432.6,.59,433.4,.46,434.3,.51,435.1,.5,436,.55,436.8,.43,437.7,.53,438.5,.49,439.4,.57,440.2,.47,441.1,.52,441.9,.5,442.8,.45,443.6,.54,444.5,.51,445.3,.48,446.2,.56,447,.5,447.9,.44,448.7,.53,449.6,.49,450.4,.55,451.3,.47,452.1,.52,453,.5,453.8,.58,454.7,.46,455.5,.51,456.4,.54,457.2,.48,458.1,.45,458.9,.53,459.8,.5,460.6,.56,461.5,.49,462.3,.52,463.2,.47,464,.55,464.9,.5,465.7,.43,466.5,.52,
469.8,.49,477.6,.53,478.5,.47,479.4,.55,480.2,.5,481.1,.44,482.3,.52,483.2,.57,484.1,.48,485.4,.53,486.2,.5,487.5,.46,488.3,.55,489.6,.51,490.8,.48,493.7,.52,496.9,.5,497.8,.55,498.6,.47,499.5,.53,500.3,.49,501.4,.44,502.2,.56,503.1,.51,504.3,.48,505.2,.54,506.1,.5,507.3,.45,508.2,.53,509.1,.58,510.4,.49,511.3,.52,512.2,.46,513.4,.55,514.3,.5,515.2,.43,516.4,.53,517.3,.48,518.2,.56,519.4,.51,520.3,.47,521.2,.54,522.5,.5,523.4,.45,524.3,.52,525.5,.57,526.4,.49,527.3,.53,528.5,.46,529.4,.51,530.3,.55,531.5,.48,532.4,.52,533.3,.44,534.5,.5,535.2,.54,
539.6,.51,542.7,.47,543.5,.54,544.4,.5,545.2,.45,546.3,.55,547.1,.49,547.9,.52,548.8,.58,549.6,.47,550.5,.53,551.4,.5,552.2,.44,553.1,.56,553.9,.51,554.8,.48,555.6,.53,556.5,.5,557.3,.46,558.2,.55,559.1,.52,559.9,.43,560.8,.5,561.6,.57,562.5,.48,563.3,.53,564.2,.51,565.1,.46,565.9,.55,566.8,.49,567.6,.52,568.5,.45,569.3,.54,570.2,.5,571.1,.58,571.9,.47,572.8,.52,573.6,.5,574.5,.44,575.3,.55,576.2,.51,577.1,.48,577.9,.53,578.8,.46,579.6,.56,580.5,.5,581.3,.53,582.2,.47,583.1,.51,583.9,.42,584.8,.54,585.6,.5,586.5,.57,587.3,.48,588.2,.52,589.1,.45,589.9,.55,590.8,.5,591.6,.47,592.5,.53,593.3,.49,594.2,.56,595.1,.51,595.9,.46,
600.8,.5,604.6,.53,605.5,.47,606.3,.55,607.2,.5,608.1,.44,608.9,.52,609.8,.57,610.6,.49,611.5,.53,612.4,.46,613.2,.51,614.1,.55,614.9,.48,615.8,.5,616.7,.59,617.5,.45,618.4,.53,619.2,.5,620.1,.47,621,.54,621.8,.51,622.7,.43,623.5,.56,624.4,.49,625.3,.52,626.1,.46,627,.55,627.8,.5,628.7,.48,629.6,.53,630.4,.44,631.3,.57,632.1,.51,633,.49,633.9,.54,634.7,.47,635.6,.52,636.4,.5,637.3,.45,638.2,.56,639,.5,639.9,.53,640.7,.48,641.6,.51,642.5,.58,643.3,.46,644.2,.53,645,.5,645.9,.43,646.8,.55,647.6,.49,648.5,.52,649.3,.47,650.2,.56,651.1,.5,651.9,.6,652.8,.45,653.6,.53,654.5,.49,655.4,.41,656.2,.55,657.1,.51,657.9,.47,658.8,.53,659.7,.58,660.5,.48,661.4,.52,662.2,.44,663.1,.55,664,.5,664.8,.46,665.7,.53,666.5,.59,667.4,.49,668.3,.42,669.1,.54,670,.5,670.8,.57,671.7,.47,672.6,.52,673.4,.45,674.3,.55,675.1,.5,
806.8,.53,807.9,.47,808.6,.56,809.8,.5,810.5,.44,811.7,.52,812.4,.58,813.6,.49,814.3,.54,815.5,.46,816.2,.51,817.4,.55,
833.7,.5,834.6,.55,835.4,.47,836.3,.52,837.1,.57,838,.49,838.9,.53,839.7,.44,840.6,.51,841.4,.56,842.3,.48,843.2,.52,844,.5,844.9,.58,845.7,.46,846.6,.53,847.5,.49,848.3,.55,849.2,.43,850,.51,850.9,.54,851.8,.48,852.6,.5,853.5,.56,854.3,.46,855.2,.52,856.1,.5,856.9,.45,857.8,.55,858.6,.51,859.5,.48,860.4,.57,861.2,.5,862.1,.53,862.9,.44,863.8,.52,864.7,.49,865.5,.55,866.4,.47,867.2,.51,868.1,.59,869,.48,869.8,.53,870.7,.5,871.5,.45,872.4,.54,873.3,.51,874.1,.47,875,.56,875.8,.5,876.7,.42,877.6,.53,878.4,.49,879.3,.55,880.1,.52,881,.46,881.9,.5,882.7,.57,883.6,.48,884.4,.53,885.3,.5,886.2,.45,887,.55,887.9,.51,888.7,.47,889.6,.54,890.5,.5,891.3,.44,892.2,.56,893,.52,893.9,.48,894.8,.53,895.6,.5,896.5,.46,897.3,.55,898.2,.49,899.1,.52,899.9,.47,
919.6,.52,920.5,.47,921.3,.55,922.2,.5,923.1,.44,923.9,.53,924.8,.49,925.6,.57,926.5,.51,927.4,.46,928.2,.54,929.1,.5,929.9,.43,930.8,.55,931.7,.49,932.5,.52,933.4,.58,934.2,.47,935.1,.53,936,.5,936.8,.45,937.7,.56,938.5,.51,939.4,.48,940.3,.53,941.1,.5,942,.46,942.8,.55,943.7,.52,944.6,.44,945.4,.5,946.3,.57,947.1,.49,948,.53,948.9,.51,949.7,.46,950.6,.55,951.4,.48,952.3,.52,953.2,.59,954,.47,954.9,.53,955.7,.5,956.6,.44,957.5,.54,958.3,.51,959.2,.48,960,.56,960.9,.5,961.8,.53,962.6,.46,963.5,.52,964.3,.49,965.2,.57,966.1,.45,966.9,.53,967.8,.5,968.6,.55,969.5,.48,970.4,.51,971.2,.43,972.1,.54,972.9,.5,973.8,.57,974.7,.47,975.5,.52,976.4,.5,977.2,.45,978.1,.55,979,.51,979.8,.48,980.7,.53,981.5,.5,982.4,.56,983.3,.46,984.1,.52,985,.49,985.8,.55,986.7,.47,987.6,.53,988.4,.5,989.3,.44,990.1,.54,991,.51,991.9,.57,992.7,.48,993.6,.52,994.4,.5,995.3,.46,996.2,.55,997,.51,997.9,.48,998.7,.53,999.6,.5];

const bafABB = [677.3,.68,678.1,.73,678.9,.62,679.8,.7,680.4,.66,681.5,.78,682.2,.64,683.1,.71,683.9,.6,684.6,.74,685.7,.67,686.3,.69,687.4,.63,688.2,.76,689,.68,690.1,.65,690.7,.79,691.8,.7,692.5,.62,693.3,.72,694.4,.67,695.1,.74,695.9,.64,697,.69,697.6,.6,698.5,.73,699.6,.68,700.3,.76,701.2,.63,702,.7,703.1,.66,703.8,.72,704.6,.59,705.7,.75,706.3,.68,707.4,.71,708.1,.64,709.2,.69,709.9,.77,710.8,.66,711.7,.7,712.4,.62,713.5,.73,714.2,.67,715.1,.8,716,.65,716.8,.71,717.9,.68,718.5,.61,719.6,.74,720.3,.69,721.2,.66,722.1,.72,722.9,.63,723.8,.7,724.7,.76,725.5,.67,726.4,.64,727.2,.71,728.1,.68,729,.6,729.8,.74,730.7,.69,731.6,.65,732.4,.72,733.3,.78,734.1,.66,735,.7,735.9,.62,736.7,.73,737.6,.68,738.5,.75,739.3,.64,740.2,.7,741,.67,741.9,.61,742.8,.72,743.6,.69,744.5,.77,745.4,.65,746.2,.71,747.1,.67,747.9,.58,748.8,.73,749.7,.69,750.5,.63,751.4,.75,752.3,.68,753.1,.71,754,.66,754.8,.6,755.7,.74,756.6,.7,757.4,.64,758.3,.72,759.2,.67,760,.79,760.9,.65,761.7,.7,762.6,.62,763.5,.73,764.3,.68,765.2,.75,766.1,.66,766.9,.71,767.8,.63,768.6,.69,769.5,.76,770.4,.65,771.2,.72,772.1,.6,773,.7,773.8,.67,774.7,.74,775.5,.64,776.4,.71,777.3,.68,778.1,.78,779,.66,779.9,.62,780.7,.73,781.6,.69,782.4,.65,783.3,.72,784.2,.67,785,.75,785.9,.61,786.8,.7,787.6,.68,788.5,.64,789.3,.74,790.2,.69,791.1,.66,791.9,.72,792.8,.63,793.7,.7,794.5,.77,795.4,.67,796.2,.65,797.1,.71,798,.6,798.8,.73,799.7,.68,800.6,.66,801.4,.74,802.3,.69,803.1,.63,804,.71,804.9,.67,805.7,.72,806.5,.65,677.5,.78,690.4,.77,702.3,.78,708.3,.77,718.2,.76,728.4,.75,751.2,.82,750.3,.78,793.4,.76,772.2,.59,782.2,.57,775.3,.56,787.4,.58];

const bafAAB = [677.2,.33,677.9,.29,678.8,.37,679.6,.31,680.5,.4,681.3,.27,682.1,.34,683,.3,683.8,.38,684.7,.32,685.5,.26,686.4,.35,687.2,.31,688.1,.41,688.9,.33,689.8,.28,690.6,.36,691.5,.3,692.3,.34,693.2,.29,694,.38,694.9,.32,695.7,.35,696.6,.27,697.4,.33,698.3,.39,699.1,.3,700,.34,700.8,.26,701.7,.36,702.5,.31,703.4,.33,704.2,.29,705.1,.37,705.9,.32,706.8,.42,707.6,.3,708.5,.35,709.3,.28,710.2,.33,711,.37,711.9,.31,712.7,.34,713.6,.27,714.4,.39,715.3,.32,716.1,.3,717,.35,717.8,.29,718.7,.33,719.5,.37,720.4,.31,721.2,.34,722.1,.25,722.9,.36,723.8,.32,724.6,.3,725.5,.35,726.3,.33,727.2,.28,728,.4,728.9,.31,729.7,.34,730.6,.3,731.4,.36,732.3,.32,733.1,.27,734,.35,734.8,.33,735.7,.29,736.5,.38,737.4,.31,738.2,.34,739.1,.29,739.9,.36,740.8,.32,741.6,.41,742.5,.3,743.3,.33,744.2,.35,745,.28,745.9,.37,746.7,.31,747.6,.34,748.4,.3,749.3,.36,750.1,.32,751,.27,751.8,.35,752.7,.33,753.5,.3,754.4,.38,755.2,.31,756.1,.34,756.9,.29,757.8,.36,758.6,.32,759.5,.3,760.3,.35,761.2,.33,762,.28,762.9,.37,763.7,.31,764.6,.39,765.4,.3,766.3,.34,767.1,.32,768,.36,768.8,.28,769.7,.33,770.5,.31,771.4,.37,772.2,.3,773.1,.34,773.9,.32,774.8,.26,775.6,.35,776.5,.33,777.3,.38,778.2,.3,779,.34,779.9,.31,780.7,.36,781.6,.29,782.4,.33,783.3,.4,784.1,.31,785,.35,785.8,.3,786.7,.33,787.5,.37,788.4,.28,789.2,.34,790.1,.31,790.9,.36,791.8,.32,792.6,.3,793.5,.35,794.3,.27,795.2,.33,796,.38,796.9,.31,797.7,.34,798.6,.29,799.4,.36,800.3,.32,801.1,.3,802,.35,802.8,.33,803.7,.28,804.5,.37,805.4,.31,806.2,.34];

const bafNearB = [3,.985,9,.99,18,.975,24,.99,33,.982,41,.992,47,.978,58,.988,63,.995,74,.98,81,.99,90,.984,97,.976,106,.99,113,.986,121,.994,130,.979,137,.99,146,.983,152,.993,161,.977,298,.99,305,.981,317,.992,323,.978,331,.988,342,.984,350,.995,357,.977,366,.99,378,.986,385,.993,394,.98,401,.988,412,.975,419,.991,428,.983,436,.994,443,.979,452,.989,460,.984,471,.992,477,.976,486,.988,495,.982,503,.993,511,.978,519,.99,527,.985,538,.994,546,.98,553,.989,562,.977,570,.991,579,.984,587,.993,596,.979,603,.988,614,.982,622,.995,629,.978,637,.99,646,.985,654,.992,663,.98,669,.988,681,.99,689,.982,697,.993,706,.978,714,.988,723,.984,731,.991,740,.977,747,.989,756,.983,765,.994,772,.979,781,.99,789,.985,797,.992,812,.98,819,.99,828,.984,836,.993,845,.977,853,.988,861,.982,870,.994,878,.979,887,.99,894,.985,903,.992,911,.978,920,.989,928,.983,937,.995,944,.98,953,.988,961,.976,970,.991,978,.984,986,.993,995,.979];

const bafNearA = [2,.02,7,.012,14,.028,19,.015,26,.024,30,.01,38,.02,43,.03,49,.012,55,.022,61,.017,67,.03,70,.01,78,.025,84,.014,88,.02,96,.031,102,.012,108,.024,112,.018,120,.01,126,.028,133,.016,138,.022,144,.012,150,.03,156,.018,160,.024,167,.03,170,.02,173,.022,176,.035,179,.015,183,.028,186,.03,189,.018,193,.02,198,.032,201,.03,204,.016,208,.026,211,.022,216,.033,219,.012,222,.025,225,.02,229,.018,233,.03,236,.01,240,.024,243,.03,248,.032,251,.02,255,.02,258,.015,263,.028,266,.035,271,.035,274,.018,279,.022,282,.028,286,.03,289,.012,294,.015,301,.025,306,.01,313,.02,318,.028,325,.012,330,.022,337,.016,342,.03,349,.01,354,.02,361,.026,366,.014,373,.03,378,.018,385,.024,390,.01,397,.02,402,.032,409,.015,414,.022,421,.012,426,.028,433,.018,438,.01,445,.025,450,.015,457,.03,462,.02,469,.012,474,.024,481,.016,486,.028,493,.01,498,.022,505,.018,510,.03,517,.012,522,.02,529,.026,534,.014,541,.02,546,.03,553,.015,558,.024,565,.01,570,.02,577,.028,582,.012,589,.022,594,.018,601,.03,606,.015,613,.02,618,.026,625,.01,630,.022,637,.016,642,.03,649,.012,654,.02,661,.025,666,.015,673,.028,678,.02,685,.03,690,.016,697,.024,702,.012,709,.02,714,.028,721,.018,726,.01,733,.025,738,.02,745,.03,750,.014,757,.022,762,.018,769,.01,774,.026,781,.02,786,.03,793,.012,798,.022,805,.018,810,.028,817,.015,822,.033,829,.02,834,.026,841,.012,846,.03,853,.022,858,.016,865,.028,870,.02,877,.035,882,.015,889,.025,894,.03,901,.018,906,.024,913,.012,918,.03,925,.02,930,.028,937,.015,942,.022,949,.03,954,.012,961,.02,966,.026,973,.016,978,.024,985,.01,990,.03,997,.02];

const bafOther = [1,.97,40,.94,45,.97,48,.98,51,.96,49,.8,61,.79,85,.72,7,.68,18,.68,36,.63,60,.64,104,.98,116,.98,125,.98,129,.19,35,.07,20,.04,43,.04,131,.02,169,.97,169,.96,176,.97,181,.965,181,.94,192,.96,196,.92,182,.85,192,.86,223,.81,225,.78,235,.98,247,.98,260,.93,268,.68,280,.79,285,.79,285,.68,281,.92,284,.87,288,.92,288,.98,300,.7,195,.67,195,.66,195,.54,195,.48,194,.19,191,.13,194,.09,176,.09,190,.07,197,.05,217,.08,224,.04,278,.11,280,.07,282,.05,287,.05,275,.04,172,.99,178,.98,185,.99,200,.985,206,.97,214,.99,228,.98,241,.975,252,.99,256,.97,266,.985,272,.98,276,.99,283,.97,290,.985,304,.7,320,.63,339,.61,492,.74,413,.9,534,.88,537,.9,540,.92,545,.95,548,.93,537,.68,544,.67,361,.41,378,.39,405,.36,424,.38,440,.36,485,.35,491,.4,539,.32,541,.29,566,.37,634,.39,591,.41,322,.14,461,.15,554,.15,541,.05,492,.05,514,.04,314,.04,322,.04,391,.04,369,.97,380,.96,414,.96,426,.94,439,.97,445,.94,457,.985,316,.985,320,.985,508,.975,514,.985,576,.985,608,.99,405,.99,421,.99,661,.39,663,.13,837,.64,882,.64,885,.39,958,.7,950,.39,989,.32,933,.41,939,.41,837,.9,855,.935,886,.94,905,.93,965,.92,989,.9,873,.975,952,.985,971,.98,989,.985,658,.94,660,.935,932,.04,806,.06,694,.96,712,.97,729,.985,775,.96,684,.98,700,.99,745,.985,760,.975];

// saturated homozygous genotype levels (BAF of the dense AA / BB dot bands)
const bafHomLevels = [0.006, 0.998];

// ---------- CHART ----------
const pairs = a => { const r = []; for (let i = 0; i + 1 < a.length; i += 2) r.push([a[i], a[i + 1]]); return r; };
const FONT = '"DejaVu Sans", sans-serif';
const BLUE = '#0000ff';

function hidden(grid, pos, line) {
  return { type: 'value', gridIndex: grid, min: 0, max: 1000, position: pos,
    axisLine: { show: line, onZero: false, lineStyle: { color: '#3a3a3a', width: 2 } },
    axisTick: { show: false }, axisLabel: { show: false }, splitLine: { show: false } };
}
function band(range, color) { return [{ xAxis: range[0], itemStyle: { color } }, { xAxis: range[1] }]; }
function label(text, x, y, size, sx, rot) {
  return { type: 'text', x, y, rotation: rot || 0, scaleX: sx || 1, z: 100,
    style: { text, fontSize: size, fontFamily: FONT, fill: '#000',
      align: rot ? 'center' : 'left', verticalAlign: 'middle',
      textAlign: rot ? 'center' : 'left', textVerticalAlign: 'middle' } };
}
function arrow(x1, y1, x2, y2, down) {
  const h = 11, st = { stroke: '#000', lineWidth: 2.4, fill: null, lineCap: 'round', lineJoin: 'miter' };
  return [
    { type: 'polyline', z: 100, shape: { points: [[x1, y1], [x2, y2]] }, style: st },
    { type: 'polyline', z: 100, shape: { points: down ? [[x2 - h, y2], [x2, y2], [x2, y2 - h]] : [[x2 - h, y2], [x2, y2], [x2, y2 + h]] }, style: st }
  ];
}

const PURPLE = '#e6cde6', GREEN = '#cde6cd';
const graphics = [
  label(axisTitles[0], 38, 168, 45, 1, Math.PI / 2),
  label(axisTitles[1], 38, 662, 45, 1, Math.PI / 2),
  label(regionLabels[0], 335, 308, 42, 1.07),
  label(regionLabels[1], 1110, 308, 42, 1.077),
  label(genotypeLabels[0], 163, 483, 42, 1.1),
  label(genotypeLabels[1], 412, 483, 42, 1.1),
  label(genotypeLabels[2], 166, 749, 42, 1.1),
  label(genotypeLabels[3], 166, 840, 42, 1.1),
  label(genotypeLabels[4], 418, 840, 42, 1.1),
  label(genotypeLabels[5], 1153, 485, 42, 1.1),
  label(genotypeLabels[6], 1153, 657, 42, 1.1),
  label(genotypeLabels[7], 1150, 809, 42, 1.1),
  label(genotypeLabels[8], 1150, 869, 42, 1.1),
  ...arrow(233, 468, 255, 445, false),
  ...arrow(447, 466, 472, 443, false),
  ...arrow(231, 735, 254, 712, false),
  ...arrow(236, 846, 259, 869, true),
  ...arrow(456, 847, 479, 870, true),
  ...arrow(1247, 470, 1271, 446, false),
  ...arrow(1247, 643, 1271, 619, false),
  ...arrow(1247, 794, 1271, 770, false),
  ...arrow(1249, 863, 1273, 886, true)
];

const topPoints = [].concat(pairs(cnLeft), pairs(cnDeletion), pairs(cnMiddle), pairs(cnDuplication), pairs(cnRight), pairs(cnExtra));
const bottomPoints = [].concat(pairs(bafAB), pairs(bafABB), pairs(bafAAB), pairs(bafNearB), pairs(bafNearA), pairs(bafOther));

const option = {
  animation: false,
  backgroundColor: '#ffffff',
  grid: [
    { left: 64, right: 0, top: 8, height: 327 },
    { left: 64, right: 0, top: 434, height: 459 }
  ],
  xAxis: [hidden(0, 'bottom', true), hidden(0, 'top', true), hidden(1, 'bottom', true), hidden(1, 'top', false)],
  yAxis: [
    { type: 'value', gridIndex: 0, min: -2.8, max: 1.0, show: false },
    { type: 'value', gridIndex: 1, min: 0, max: 1, show: false }
  ],
  series: [
    { type: 'line', xAxisIndex: 0, yAxisIndex: 0, data: [], z: 1, silent: true,
      markArea: { silent: true, data: [band(deletionTop, PURPLE), band(duplicationTop, GREEN)] } },
    { type: 'scatter', xAxisIndex: 0, yAxisIndex: 0, data: topPoints, symbolSize: 3.5, z: 2, silent: true,
      itemStyle: { color: BLUE, opacity: 1 }, large: false, progressive: 0, largeThreshold: 100000 },
    { type: 'line', xAxisIndex: 0, yAxisIndex: 0, data: pairs(cnSmooth), z: 3, silent: true, showSymbol: false,
      lineStyle: { color: '#ff0000', width: 3.8 } },
    { type: 'line', xAxisIndex: 2, yAxisIndex: 1, data: [], z: 1, silent: true,
      markArea: { silent: true, data: [band(deletionBottom, PURPLE), band(duplicationBottom, GREEN)] } },
    { type: 'scatter', xAxisIndex: 2, yAxisIndex: 1, data: bottomPoints, symbolSize: 3.3, z: 2, silent: true,
      itemStyle: { color: BLUE, opacity: 1 }, large: false, progressive: 0, largeThreshold: 100000 },
    { type: 'line', xAxisIndex: 2, yAxisIndex: 1, data: [[0, bafHomLevels[0]], [1000, bafHomLevels[0]]], z: 3, silent: true, showSymbol: false,
      lineStyle: { color: BLUE, width: 5 } },
    { type: 'line', xAxisIndex: 2, yAxisIndex: 1, data: [[0, bafHomLevels[1]], [1000, bafHomLevels[1]]], z: 3, silent: true, showSymbol: false,
      lineStyle: { color: BLUE, width: 4 } }
  ],
  graphic: graphics
};

const chart = echarts.init(document.getElementById('c'), null, { renderer: 'canvas' });
chart.setOption(option);
</script>
</body></html>
